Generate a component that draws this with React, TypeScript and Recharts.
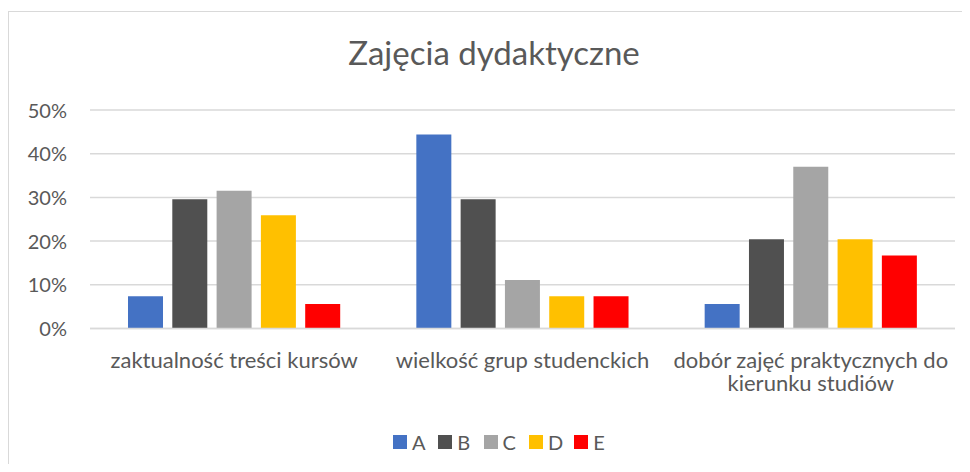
import React from 'react'
import { Bar, BarChart, CartesianGrid, XAxis, YAxis } from 'recharts'

const categories = [
  'zaktualność treści kursów',
  'wielkość grup studenckich',
  'dobór zajęć praktycznych do\nkierunku studiów'
]
const seriesA = [0.074, 0.444, 0.056]
const seriesB = [0.296, 0.296, 0.204]
const seriesC = [0.315, 0.111, 0.37]
const seriesD = [0.259, 0.074, 0.204]
const seriesE = [0.056, 0.074, 0.167]
const yTicks = [0, 0.1, 0.2, 0.3, 0.4, 0.5]

const series = [
  { key: 'A', values: seriesA, color: '#4472c4' },
  { key: 'B', values: seriesB, color: '#505050' },
  { key: 'C', values: seriesC, color: '#a5a5a5' },
  { key: 'D', values: seriesD, color: '#ffc000' },
  { key: 'E', values: seriesE, color: '#ff0000' }
]

const data = categories.map((name, i) => {
  const row: Record<string, string | number> = { name }
  series.forEach((s) => {
    row[s.key] = s.values[i]
  })
  return row
})

const FONT = 'Lato, "Open Sans", sans-serif'
const TEXT = '#595959'

function XTick(props: any) {
  const { x, y, payload } = props
  const lines = String(payload.value).split('\n')
  return (
    <text
      x={x}
      y={y + 31}
      textAnchor="middle"
      fontSize={22}
      fontFamily={FONT}
      fill={TEXT}
    >
      {lines.map((line, i) => (
        <tspan key={i} x={x} dy={i === 0 ? 0 : 23.5}>
          {line}
        </tspan>
      ))}
    </text>
  )
}

function YTick(props: any) {
  const { y, payload } = props
  return (
    <text
      x={67}
      y={y}
      dy={7.5}
      textAnchor="end"
      fontSize={20}
      fontFamily={FONT}
      fill={TEXT}
    >
      {Math.round(payload.value * 100) + '%'}
    </text>
  )
}

export default function App() {
  return (
    <div
      style={{
        margin: -8,
        width: 970,
        height: 472,
        position: 'relative',
        overflow: 'hidden',
        background: '#fff'
      }}
    >
      <div
        style={{
          position: 'absolute',
          left: 8,
          top: 11,
          right: -10,
          bottom: -10,
          borderLeft: '1.5px solid #d9d9d9',
          borderTop: '1.5px solid #d9d9d9'
        }}
      />
      <div
        style={{
          position: 'absolute',
          left: 194,
          width: 600,
          top: 33,
          textAlign: 'center',
          fontFamily: FONT,
          fontSize: 33,
          lineHeight: '38px',
          color: TEXT,
          whiteSpace: 'nowrap'
        }}
      >
        Zajęcia dydaktyczne
      </div>
      <div style={{ position: 'absolute', left: 0, top: 0 }}>
        <BarChart
          width={970}
          height={472}
          data={data}
          margin={{ top: 110, right: 15, bottom: 43.5, left: 0 }}
          barGap={9.3}
          barSize={35}
        >
          <CartesianGrid vertical={false} stroke="#d9d9d9" strokeWidth={1.5} />
          <XAxis
            dataKey="name"
            axisLine={{ stroke: '#d9d9d9', strokeWidth: 1.5 }}
            tickLine={false}
            tick={<XTick />}
            interval={0}
            height={100}
          />
          <YAxis
            width={90}
            domain={[0, 0.5]}
            ticks={yTicks}
            axisLine={false}
            tickLine={false}
            tick={<YTick />}
          />
          {series.map((s) => (
            <Bar
              key={s.key}
              dataKey={s.key}
              fill={s.color}
              isAnimationActive={false}
            />
          ))}
        </BarChart>
      </div>
      <div
        style={{
          position: 'absolute',
          left: 393,
          top: 430,
          display: 'flex',
          fontFamily: FONT,
          fontSize: 20,
          lineHeight: '24px',
          color: TEXT
        }}
      >
        {series.map((s) => (
          <div
            key={s.key}
            style={{ display: 'flex', alignItems: 'center', width: 45.3 }}
          >
            <span
              style={{
                width: 14,
                height: 14,
                background: s.color,
                display: 'inline-block',
                marginRight: 5
              }}
            />
            <span>{s.key}</span>
          </div>
        ))}
      </div>
    </div>
  )
}
